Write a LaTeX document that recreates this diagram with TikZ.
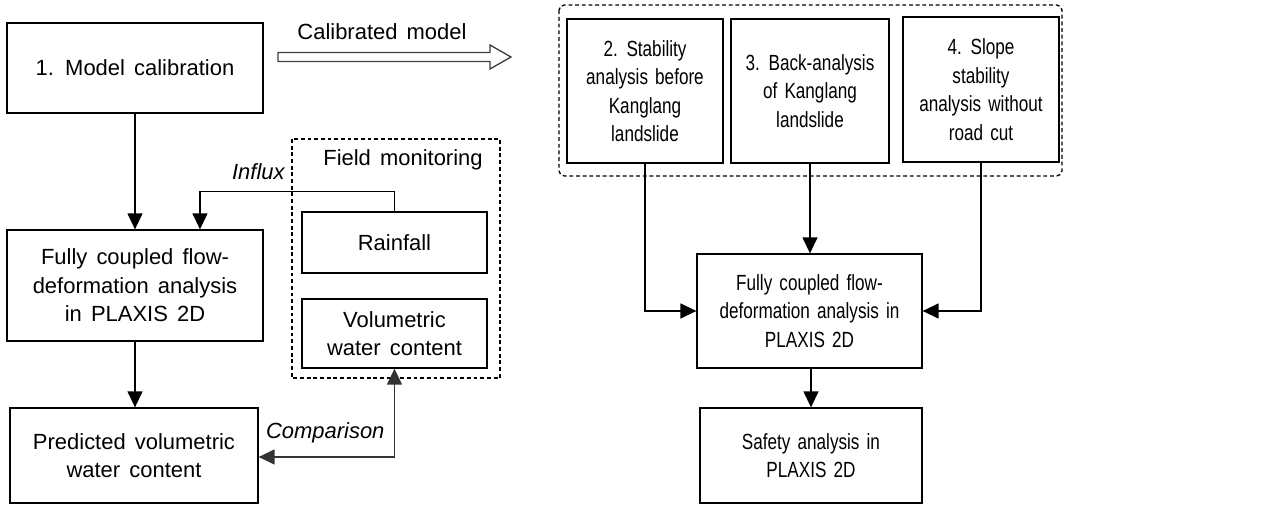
\documentclass[tikz,border=0pt]{standalone}
\usepackage{fontspec}
\setmainfont[WordSpace=1.5]{Liberation Sans}
\newfontfamily\narrowfont[FakeStretch=0.78,WordSpace=1.5]{Liberation Sans}
\usetikzlibrary{arrows.meta}

\tikzset{
    box/.style={draw, line width=0.75pt, align=center, inner sep=0pt,
        font=\fontsize{12.5}{16.2}\selectfont},
    nbox/.style={box, font=\narrowfont\fontsize{12.5}{16.2}\selectfont},
    arr/.style={line width=0.75pt, -{Triangle[length=0.32cm,width=0.3cm]}},
    group/.style={line width=0.75pt, dash pattern=on 2.2pt off 1.6pt},
}

\begin{document}
\begin{tikzpicture}[x=0.02cm, y=-0.02cm]
        \useasboundingbox (0,0) rectangle (1272,506);

        % left column
        \node[box, minimum width=5.12cm, minimum height=1.8cm] (calib) at (135, 68) {1. Model calibration};
        \node[box, minimum width=5.12cm, minimum height=2.22cm] (fcl) at (135, 285.5) {Fully coupled flow-\\deformation analysis\\in PLAXIS 2D};
        \node[box, minimum width=4.96cm, minimum height=1.9cm] (pred) at (134, 455.5) {Predicted volumetric\\water content};

        % field monitoring
        \draw[group] (292,139) rectangle (500,378);
        \node[font=\fontsize{12.5}{16.2}\selectfont] (field) at (403, 160) {Field monitoring};
        \node[box, minimum width=3.7cm, minimum height=1.22cm] (rain) at (394.5, 242.5) {Rainfall};
        \node[box, minimum width=3.7cm, minimum height=1.38cm] (vol) at (394.5, 333.5) {Volumetric\\water content};

        % calibrated model
        \draw[line width=0.75pt, draw=black!75, fill=white] (278,52.5) -- (490,52.5) -- (490,45) -- (511,57)
            -- (490,69) -- (490,61.5) -- (278,61.5) -- cycle;
        \node[font=\fontsize{12.5}{16.2}\selectfont] (calibtxt) at (382, 32) {Calibrated model};

        % right part
        \draw[group, rounded corners=3pt] (559,5) rectangle (1062,176);
        \node[nbox, minimum width=3.12cm, minimum height=2.88cm] (stab) at (645, 91) {2. Stability\\analysis before\\Kanglang\\landslide};
        \node[nbox, minimum width=3.16cm, minimum height=2.88cm] (back) at (810, 91) {3. Back-analysis\\of Kanglang\\landslide};
        \node[nbox, minimum width=3.12cm, minimum height=2.9cm] (slope) at (981, 89.5) {4. Slope\\stability\\analysis without\\road cut};
        \node[nbox, minimum width=4.5cm, minimum height=2.28cm] (fcr) at (809.5, 311) {Fully coupled flow-\\deformation analysis in\\PLAXIS 2D};
        \node[nbox, minimum width=4.44cm, minimum height=1.9cm] (safe) at (811, 455.5) {Safety analysis in\\PLAXIS 2D};

        % connectors
        \draw[arr] (calib) -- (fcl);
        \draw[arr] (fcl) -- (pred.north -| fcl.south);
        \draw[arr] (rain.north) -- ++(0,-20) -| node[pos=0.35, above=3pt, font=\itshape\fontsize{12.5}{16.2}\selectfont] {Influx} ([xshift=1.3cm]fcl.north);
        \draw[line width=0.75pt, draw=black!80, {Triangle[length=0.32cm,width=0.3cm]}-{Triangle[length=0.32cm,width=0.3cm]}] (pred.east |- 0,457) -| node[pos=0.5, anchor=south east, xshift=-2pt, yshift=4pt, font=\itshape\fontsize{12.5}{16.2}\selectfont] {Comparison} (vol.south);

        \draw[arr] (stab.south) |- (fcr.west);
        \draw[arr] (back.south) -- (fcr.north -| back.south);
        \draw[arr] (slope.south) |- (fcr.east);
        \draw[arr] (fcr.south -| safe.north) -- (safe.north);

    \end{tikzpicture}
\end{document}
